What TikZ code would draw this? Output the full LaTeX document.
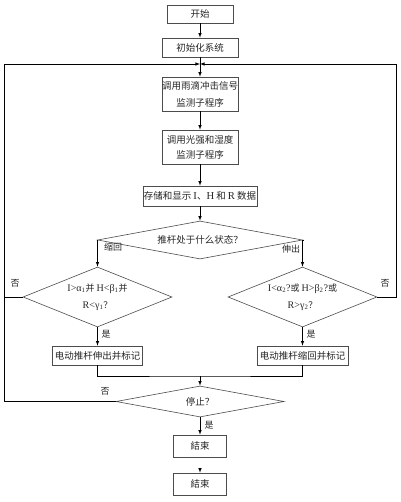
\documentclass[tikz,border=0pt]{standalone}
\usepackage{fontspec}
\setmainfont[Scale=1.12]{Liberation Serif}
\newfontfamily\cjk{Noto Sans CJK SC}
\usetikzlibrary{shapes.geometric}
\newcommand\la[1]{{\rmfamily #1}}

\begin{document}
\begin{tikzpicture}[x=1pt,y=-1pt,>=latex,line width=0.6pt,
  every node/.style={font=\cjk\fontsize{9.5}{17}\selectfont,inner sep=1pt,text=black!85},
  box/.style={draw=black!70,align=center,inner sep=0pt},
  dia/.style={draw=black!70,diamond,align=center,inner sep=0pt},
  lbl/.style={font=\cjk\fontsize{9}{11}\selectfont}]
\useasboundingbox (0,0) rectangle (400,502);
% main column
\node[box,minimum width=66,minimum height=18] (start) at (200,14) {开始};
\node[box,minimum width=76,minimum height=19] (init) at (200,47.5) {初始化系统};
\coordinate (join) at (200,64);
\node[box,minimum width=76,minimum height=34] (rain) at (200,94) {调用雨滴冲击信号\\监测子程序};
\node[box,minimum width=76,minimum height=34,font=\cjk\fontsize{9.5}{15}\selectfont] (light) at (200,147) {调用光强和湿度\\监测子程序};
\node[box,minimum width=114,minimum height=20] (store) at (200,196) {存储和显示 \la{I}、\la{H} 和 \la{R} 数据};
\node[dia,aspect=5.4,minimum width=205,minimum height=38] (state) at (200,240) {推杆处于什么状态？};
% two branches
\node[dia,aspect=2.5,minimum width=149,minimum height=60,font=\cjk\fontsize{9}{17}\selectfont] (chkout) at (97.5,297)
  {\la{I>α\textsubscript{1}}并 \la{H<β\textsubscript{1}}并\\\la{R<γ\textsubscript{1}}？};
\node[dia,aspect=2.5,minimum width=149,minimum height=60,font=\cjk\fontsize{9}{17}\selectfont] (chkin) at (302.5,297)
  {\la{I<α\textsubscript{2}?}或 \la{H>β\textsubscript{2}?}或\\\la{R>γ\textsubscript{2}}？};
\node[box,minimum width=90,minimum height=19] (pushout) at (97.5,355.5) {电动推杆伸出并标记};
\node[box,minimum width=91,minimum height=19] (pullin) at (302.5,355.5) {电动推杆缩回并标记};
\coordinate (merge) at (200,376);
\node[dia,aspect=5.4,minimum width=168,minimum height=31] (stop) at (200,401.5) {停止？};
\node[box,minimum width=53,minimum height=22] (endA) at (200,446) {結束};
\node[box,minimum width=53,minimum height=22] (endB) at (200,484) {結束};
\coordinate (loopL) at (4,64);
\coordinate (loopR) at (396,64);
% connectors
\draw[->] (start) -- (init);
\draw (init) -- (join);
\draw[->] (join) -- (rain);
\draw[->] (rain) -- (light);
\draw[->] (light) -- (store);
\draw[->] (store) -- (state);
\draw[->] (state.west) -| (chkout.north);
\draw[->] (state.east) -| (chkin.north);
\draw[->] (chkout) -- (pushout);
\draw[->] (chkin) -- (pullin);
\draw (pushout.south) |- (merge) -| (pullin.south);
\draw[->] (merge) -- (stop);
\draw[->] (stop) -- (endA);
\draw[->,shorten <=12pt] (endA) -- (endB);
% loops back
\draw[->] (stop.west) -| (loopL) -- (join);
\draw (chkout.west) -- (chkout.west -| loopL);
\draw[->] (chkin.east) -| (loopR) -- (join);
% labels
\node[lbl] (lretract) at (113,247) {缩回};
\node[lbl] (lextend) at (291,249) {伸出};
\node[lbl] (lnoL) at (15,283) {否};
\node[lbl] (lnoR) at (385,283) {否};
\node[lbl] (lyesL) at (106,334) {是};
\node[lbl] (lyesR) at (311,334) {是};
\node[lbl] (lnoS) at (105,391) {否};
\node[lbl] (lyesS) at (209,425) {是};
\end{tikzpicture}
\end{document}
